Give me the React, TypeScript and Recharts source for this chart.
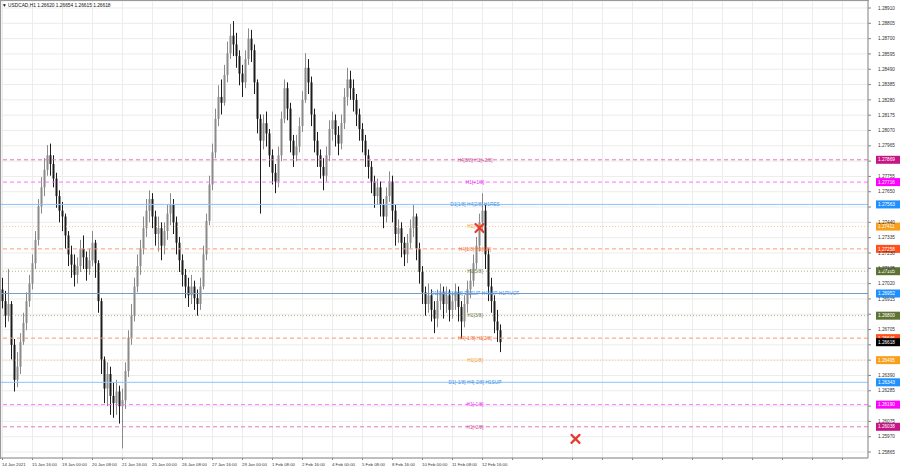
import { Bar, ComposedChart, XAxis, YAxis, CartesianGrid, ReferenceLine, ReferenceDot } from "recharts"

// USDCAD H1 candles, one slot per bar (open = previous close)
const firstOpen = 1.2698
const closes = [
  1.2690, 1.2680, 1.2688, 1.2660, 1.2636, 1.2645, 1.2662, 1.2675, 1.2690, 1.2702,
  1.2716, 1.2732, 1.2755, 1.2768, 1.2780, 1.2790, 1.2784, 1.2774, 1.2762, 1.2752,
  1.2748, 1.2735, 1.2722, 1.2715, 1.2708, 1.2714, 1.2726, 1.2720, 1.2712, 1.2718,
  1.2730, 1.2716, 1.2690, 1.2650, 1.2630, 1.2640, 1.2625, 1.2620, 1.2628, 1.2618,
  1.2622, 1.2642, 1.2665, 1.2680, 1.2700, 1.2714, 1.2726, 1.2740, 1.2752, 1.2760,
  1.2748, 1.2736, 1.2740, 1.2728, 1.2738, 1.2750, 1.2756, 1.2744, 1.2730, 1.2718,
  1.2708, 1.2700, 1.2694, 1.2700, 1.2692, 1.2688, 1.2700, 1.2722, 1.2745, 1.2770,
  1.2792, 1.2815, 1.2830, 1.2826, 1.2845, 1.2860, 1.2872, 1.2866, 1.2858, 1.2846,
  1.2840, 1.2856, 1.2870, 1.2862, 1.2840, 1.2815, 1.2800, 1.2812, 1.2805, 1.2790,
  1.2778, 1.2772, 1.2790, 1.2815, 1.2836, 1.2822, 1.2800, 1.2790, 1.2796, 1.2810,
  1.2828, 1.2850, 1.2840, 1.2818, 1.2800, 1.2790, 1.2782, 1.2776, 1.2790, 1.2808,
  1.2814, 1.2804, 1.2798, 1.2812, 1.2830, 1.2842, 1.2836, 1.2828, 1.2818, 1.2808,
  1.2800, 1.2790, 1.2782, 1.2772, 1.2762, 1.2768, 1.2756, 1.2748, 1.2762, 1.2772,
  1.2752, 1.2736, 1.2740, 1.2730, 1.2722, 1.2730, 1.2740, 1.2748, 1.2726, 1.2710,
  1.2696, 1.2688, 1.2694, 1.2684, 1.2678, 1.2690, 1.2696, 1.2688, 1.2694, 1.2684,
  1.2690, 1.2696, 1.2686, 1.2676, 1.2688, 1.2698, 1.2704, 1.2716, 1.2728, 1.2744,
  1.2752, 1.2722, 1.2700, 1.2690, 1.2676, 1.2670, 1.26618,
]
const highs = [
  1.2706, 1.2697, 1.2712, 1.2690, 1.2664, 1.2655, 1.2668, 1.2682, 1.2696, 1.2708,
  1.2722, 1.2738, 1.2760, 1.2775, 1.2788, 1.2797, 1.2798, 1.2790, 1.2778, 1.2766,
  1.2758, 1.2750, 1.2738, 1.2728, 1.2722, 1.2720, 1.2732, 1.2735, 1.2724, 1.2726,
  1.2738, 1.2732, 1.2718, 1.2692, 1.2652, 1.2648, 1.2645, 1.2634, 1.2636, 1.2632,
  1.2630, 1.2648, 1.2670, 1.2688, 1.2706, 1.2722, 1.2732, 1.2748, 1.2760, 1.2766,
  1.2764, 1.2752, 1.2748, 1.2744, 1.2744, 1.2756, 1.2764, 1.2760, 1.2748, 1.2734,
  1.2722, 1.2712, 1.2706, 1.2708, 1.2704, 1.2698, 1.2706, 1.2728, 1.2750, 1.2776,
  1.2798, 1.2822, 1.2838, 1.2842, 1.2852, 1.2868, 1.2880, 1.2882, 1.2874, 1.2862,
  1.2852, 1.2862, 1.2877, 1.2876, 1.2866, 1.2842, 1.2818, 1.2818, 1.2820, 1.2808,
  1.2794, 1.2784, 1.2796, 1.2820, 1.2842, 1.2840, 1.2826, 1.2804, 1.2804, 1.2816,
  1.2834, 1.2860, 1.2856, 1.2844, 1.2822, 1.2806, 1.2794, 1.2788, 1.2796, 1.2814,
  1.2820, 1.2818, 1.2810, 1.2818, 1.2836, 1.2850, 1.2848, 1.2842, 1.2832, 1.2822,
  1.2812, 1.2804, 1.2794, 1.2786, 1.2776, 1.2774, 1.2772, 1.2760, 1.2768, 1.2779,
  1.2776, 1.2756, 1.2746, 1.2744, 1.2734, 1.2736, 1.2746, 1.2756, 1.2750, 1.2730,
  1.2714, 1.2700, 1.2702, 1.2698, 1.2690, 1.2698, 1.2702, 1.2700, 1.2700, 1.2698,
  1.2696, 1.2702, 1.2700, 1.2690, 1.2694, 1.2704, 1.2712, 1.2722, 1.2734, 1.2750,
  1.2764, 1.2756, 1.2726, 1.2706, 1.2694, 1.2684, 1.2674,
]
const lows = [
  1.2685, 1.2672, 1.2676, 1.2650, 1.2628, 1.2631, 1.2640, 1.2660, 1.2670, 1.2686,
  1.2698, 1.2712, 1.2728, 1.2750, 1.2762, 1.2776, 1.2776, 1.2768, 1.2754, 1.2744,
  1.2738, 1.2726, 1.2714, 1.2706, 1.2700, 1.2702, 1.2710, 1.2712, 1.2704, 1.2708,
  1.2714, 1.2706, 1.2682, 1.2640, 1.2620, 1.2618, 1.2612, 1.2610, 1.2612, 1.2606,
  1.2589, 1.2616, 1.2638, 1.2660, 1.2676, 1.2696, 1.2708, 1.2722, 1.2734, 1.2744,
  1.2740, 1.2728, 1.2724, 1.2718, 1.2722, 1.2732, 1.2742, 1.2736, 1.2722, 1.2710,
  1.2700, 1.2692, 1.2686, 1.2688, 1.2684, 1.2680, 1.2684, 1.2698, 1.2718, 1.2742,
  1.2766, 1.2788, 1.2810, 1.2818, 1.2824, 1.2840, 1.2856, 1.2858, 1.2850, 1.2838,
  1.2830, 1.2836, 1.2852, 1.2854, 1.2832, 1.2805, 1.2750, 1.2794, 1.2796, 1.2782,
  1.2770, 1.2764, 1.2768, 1.2786, 1.2812, 1.2814, 1.2792, 1.2782, 1.2786, 1.2792,
  1.2806, 1.2826, 1.2832, 1.2810, 1.2792, 1.2782, 1.2774, 1.2766, 1.2772, 1.2786,
  1.2800, 1.2796, 1.2790, 1.2794, 1.2808, 1.2824, 1.2828, 1.2820, 1.2810, 1.2800,
  1.2792, 1.2782, 1.2774, 1.2764, 1.2754, 1.2756, 1.2748, 1.2740, 1.2744, 1.2758,
  1.2744, 1.2728, 1.2730, 1.2720, 1.2714, 1.2716, 1.2726, 1.2734, 1.2718, 1.2702,
  1.2688, 1.2680, 1.2682, 1.2676, 1.2668, 1.2672, 1.2684, 1.2678, 1.2682, 1.2676,
  1.2678, 1.2684, 1.2676, 1.2664, 1.2672, 1.2682, 1.2692, 1.2700, 1.2712, 1.2724,
  1.2738, 1.2712, 1.2690, 1.2682, 1.2668, 1.2662, 1.2655,
]

const totalSlots = 289 // chart is shifted, empty space on the right

const priceTicks = [
  1.2891, 1.28805, 1.287, 1.28595, 1.2849, 1.28385, 1.2828, 1.28175, 1.2807, 1.27965,
  1.2786, 1.27755, 1.2765, 1.27545, 1.2744, 1.27335, 1.2723, 1.27125, 1.2702, 1.26915,
  1.2681, 1.26705, 1.266, 1.26495, 1.2639, 1.26285, 1.2618, 1.26075, 1.2597, 1.25865,
]
const timeLabels = [
  "14 Jan 2021", "15 Jan 16:00", "19 Jan 00:00", "20 Jan 08:00", "21 Jan 16:00", "25 Jan 00:00",
  "26 Jan 08:00", "27 Jan 16:00", "29 Jan 00:00", "1 Feb 08:00", "2 Feb 16:00", "4 Feb 00:00",
  "5 Feb 08:00", "8 Feb 16:00", "10 Feb 00:00", "11 Feb 08:00", "12 Feb 16:00",
]

// Murrey levels
const levelPrices = [1.27869, 1.27716, 1.27563, 1.27411, 1.27258, 1.27105, 1.26952, 1.268, 1.26646, 1.26495, 1.26343, 1.2619, 1.26038]
const levelNames = [
  "H4[3/8] H1[+2/8]", "H1[+1/8]", "D1[1/8] H4[2/8] H1RES", "H1[7/8]", "H4[1/8] H1[6/8]", "H1[5/8]",
  "D1[0/8] H1[4/8] D1SUP H4SUP H1PIVOT", "H1[3/8]", "H4[-1/8] H1[2/8]", "H1[1/8]",
  "D1[-1/8] H4[-2/8] H1SUP", "H1[-1/8]", "H1[-2/8]",
]
const levelKinds = ["pink", "magenta", "blue", "orange", "coral", "olive", "pivot", "olive", "coral", "orange", "blue", "magenta", "pink"]
const currentPrice = 1.26618

const crossSlots = [159, 191]
const crossPrices = [1.27401, 1.25955]

const kindStyle: Record<string, { line: string; text: string; bg: string; dash?: string }> = {
  pink: { line: "#e27ab8", text: "#d2479c", bg: "#c71585", dash: "4 3" },
  magenta: { line: "#ff70ff", text: "#f02cf0", bg: "#ff00ff", dash: "4 3" },
  blue: { line: "#8cc4fb", text: "#3c92e6", bg: "#1e90ff" },
  orange: { line: "#fbc98c", text: "#f39a2a", bg: "#f8a01c", dash: "1 2" },
  coral: { line: "#fb9a70", text: "#f26a2e", bg: "#ff4f1a", dash: "4 3" },
  olive: { line: "#a9b38a", text: "#6f7f3f", bg: "#5e7233", dash: "1 2" },
  pivot: { line: "#7a9cc4", text: "#3c92e6", bg: "#1e90ff" },
}

const FONT = "Liberation Sans, Arial, sans-serif"
const LABEL_X = 475

const data = Array.from({ length: totalSlots }, (_, i) =>
  i < closes.length
    ? { i, o: i === 0 ? firstOpen : closes[i - 1], h: highs[i], l: lows[i], c: closes[i] }
    : { i },
)

// axis prices that sit under a coloured level box are hidden, like in the terminal
const boxPrices = [...levelPrices, currentPrice]
const isCovered = (v: number) => boxPrices.some((p) => Math.abs(p - v) < 0.00019)

function Candle(props: any) {
  const { x, y, width, height, payload } = props
  if (!payload || payload.h == null) return null
  const top = Math.min(y, y + height)
  const span = Math.abs(height)
  const range = payload.h - payload.l || 1
  const toY = (v: number) => top + ((payload.h - v) / range) * span
  const cx = Math.floor(x + width / 2) + 0.5
  const yo = toY(payload.o)
  const yc = toY(payload.c)
  const up = payload.c >= payload.o
  const color = up ? "#8a8a8a" : "#1c1c1c"
  return (
    <g>
      <line x1={cx} x2={cx} y1={top} y2={top + span} stroke={color} strokeWidth={1} />
      <rect x={cx - 1} y={Math.min(yo, yc)} width={2} height={Math.max(1, Math.abs(yc - yo))} fill={color} />
    </g>
  )
}

function PriceTick({ x, y, payload }: any) {
  const v = Number(payload.value)
  if (isCovered(v)) return null
  return (
    <text x={x} y={y + 1.7} fontSize={4.7} fill="#333" fontFamily={FONT}>
      {v.toFixed(5)}
    </text>
  )
}

function TimeTick({ x, y, payload }: any) {
  const label = timeLabels[payload.value / 10]
  if (!label) return null
  return (
    <text x={x - 0.5} y={y + 3.8} fontSize={4.3} fill="#333" fontFamily={FONT}>
      {label}
    </text>
  )
}

function CrossMark({ cx, cy }: any) {
  return (
    <g stroke="#e8392d" strokeWidth={2.2} strokeLinecap="round">
      <line x1={cx - 4} y1={cy - 4} x2={cx + 4} y2={cy + 4} />
      <line x1={cx - 4} y1={cy + 4} x2={cx + 4} y2={cy - 4} />
    </g>
  )
}

const levelLabel = (price: number, name: string, bg: string, color: string) => (props: any) => {
  const vb = props.viewBox
  if (!vb) return null
  const right = vb.x + vb.width
  return (
    <g>
      {name && (
        <text x={LABEL_X} y={vb.y + 1.8} textAnchor="middle" fontSize={4.8} fill={color} fontFamily={FONT}>
          {name}
        </text>
      )}
      <rect x={right + 8} y={vb.y - 4} width={24} height={8} fill={bg} />
      <text x={right + 10} y={vb.y + 1.7} fontSize={4.7} fill="#fff" fontFamily={FONT}>
        {price.toFixed(5)}
      </text>
    </g>
  )
}

export default function App() {
  const xTicks = Array.from({ length: 29 }, (_, k) => k * 10)
  return (
    <div style={{ position: "fixed", left: 0, top: 0, width: 900, height: 468, background: "#fff" }}>
      <ComposedChart
        width={900}
        height={468}
        data={data}
        margin={{ top: 1, right: 0, bottom: 0, left: 1 }}
        barCategoryGap={0}
      >
        <CartesianGrid stroke="#ececec" />
        <XAxis
          dataKey="i"
          ticks={xTicks}
          interval={0}
          height={10}
          tick={<TimeTick />}
          tickSize={2}
          tickLine={{ stroke: "#888" }}
          axisLine={{ stroke: "#888" }}
        />
        <YAxis
          orientation="right"
          width={32}
          domain={[1.25824, 1.28958]}
          ticks={priceTicks}
          interval={0}
          tick={<PriceTick />}
          tickSize={3}
          tickMargin={7}
          tickLine={{ stroke: "#888" }}
          axisLine={{ stroke: "#888" }}
          allowDataOverflow
        />
        <Bar dataKey={(d: any) => (d.h == null ? null : [d.l, d.h])} shape={<Candle />} isAnimationActive={false} />
        {levelPrices.map((p, k) => {
          const s = kindStyle[levelKinds[k]]
          return (
            <ReferenceLine
              key={k}
              y={p}
              stroke={s.line}
              strokeWidth={1}
              strokeDasharray={s.dash}
              label={levelLabel(p, levelNames[k], s.bg, s.text)}
            />
          )
        })}
        <ReferenceLine y={currentPrice} stroke="#000" strokeOpacity={0} label={levelLabel(currentPrice, "", "#000", "#000")} />
        {crossSlots.map((s, k) => (
          <ReferenceDot key={k} x={s} y={crossPrices[k]} r={4} shape={<CrossMark />} ifOverflow="visible" />
        ))}
      </ComposedChart>
      <div
        style={{
          position: "absolute",
          left: 0,
          top: 0,
          width: 868,
          height: 458,
          borderTop: "1px solid #999",
          borderLeft: "1px solid #999",
          pointerEvents: "none",
        }}
      />
      <svg style={{ position: "absolute", left: 0, top: 0 }} width={200} height={12}>
        <text x={2} y={7} fontSize={4.8} fill="#111" fontFamily={FONT}>
          ▼ USDCAD,H1  1.26620 1.26654 1.26615 1.26618
        </text>
      </svg>
    </div>
  )
}
